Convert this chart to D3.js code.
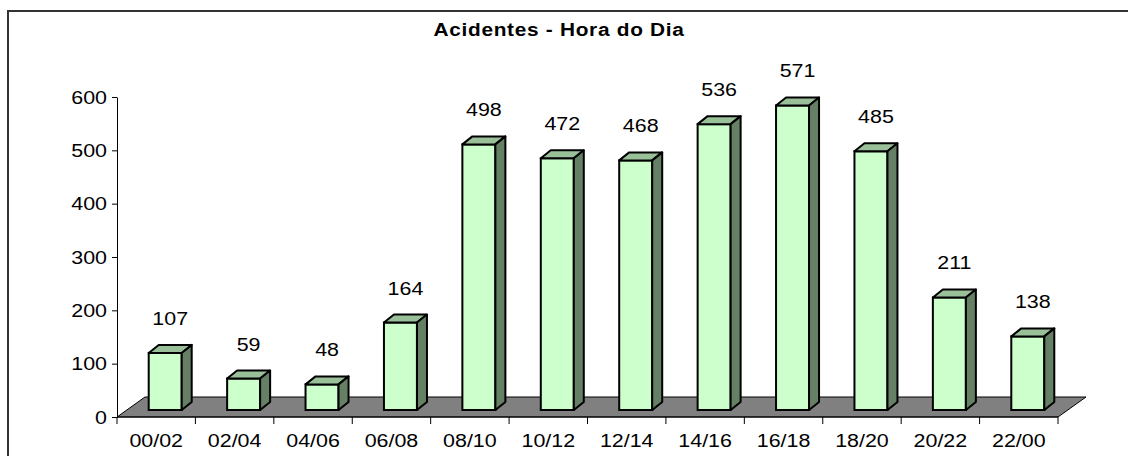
<!DOCTYPE html>
<html>
<head>
<meta charset="utf-8">
<script src="https://cdn.jsdelivr.net/npm/d3@7"></script>
<style>
  body { margin: 0; background: #fff; }
  text { font-family: Arial, "Liberation Sans", sans-serif; fill: #000; }
</style>
</head>
<body>
<div id="chart"></div>
<script>
// data
const hours = ["00/02", "02/04", "04/06", "06/08", "08/10", "10/12", "12/14", "14/16", "16/18", "18/20", "20/22", "22/00"];
const accidents = [107, 59, 48, 164, 498, 472, 468, 536, 571, 485, 211, 138];
const yTicks = [0, 100, 200, 300, 400, 500, 600];
const title = "Acidentes - Hora do Dia";

const width = 1128, height = 456;
const stretch = 1.19; // the text in the picture is a little wider than normal

const svg = d3.select("#chart").append("svg")
    .attr("width", width)
    .attr("height", height);

// outer frame (right and bottom edges fall outside the picture)
svg.append("rect")
    .attr("x", 8).attr("y", 11)
    .attr("width", 1300).attr("height", 600)
    .attr("fill", "none")
    .attr("stroke", "#333")
    .attr("stroke-width", 2);

let xScale = d3.scaleBand()
    .domain(hours)
    .range([117, 1058]);

let yScale = d3.scaleLinear()
    .domain([0, 600])
    .range([417, 97]);

// depth of the floor and of each bar
const floorDx = 28, floorDy = -20;
const barShiftX = 9, barShiftY = -7;
const barDx = 10, barDy = -8;
const barWidth = 33;

// floor
const x0 = xScale.range()[0], x1 = xScale.range()[1], y0 = yScale(0);
svg.append("polygon")
    .attr("points", [[x0, y0], [x1, y0], [x1 + floorDx, y0 + floorDy], [x0 + floorDx, y0 + floorDy]].join(" "))
    .attr("fill", "#808080")
    .attr("stroke", "#000")
    .attr("stroke-width", 1);

// y axis
let yAxis = d3.axisLeft(yScale).tickValues(yTicks).tickSize(5).tickSizeOuter(0);
let yAx = svg.append("g")
    .attr("transform", "translate(" + x0 + ",0)")
    .call(yAxis);
yAx.select(".domain").attr("stroke", "#000");
yAx.selectAll(".tick line").attr("stroke", "#000");
yAx.selectAll(".tick text")
    .attr("x", 0).attr("dy", null)
    .attr("transform", "translate(-10,6) scale(" + stretch + ",1)")
    .style("font-size", "18px")
    .style("font-family", "Arial, 'Liberation Sans', sans-serif")
    .attr("fill", "#000");

// x axis: line along the floor front, ticks at category edges
let xAx = svg.append("g");
xAx.append("line")
    .attr("x1", x0).attr("x2", x1)
    .attr("y1", y0).attr("y2", y0)
    .attr("stroke", "#000");
let edges = hours.map(h => xScale(h)).concat([x1]);
xAx.selectAll(".xtick").data(edges).enter().append("line")
    .attr("x1", d => d).attr("x2", d => d)
    .attr("y1", y0).attr("y2", y0 + 7)
    .attr("stroke", "#000");
xAx.selectAll(".xlabel").data(hours).enter().append("text")
    .attr("transform", d => "translate(" + (xScale(d) + xScale.bandwidth() / 2) + "," + (y0 + 30) + ") scale(" + stretch + ",1)")
    .attr("text-anchor", "middle")
    .style("font-size", "18px")
    .text(d => d);

// bars
let rows = hours.map((h, i) => ({hour: h, value: accidents[i]}));
let bars = svg.selectAll(".bar").data(rows).enter().append("g").attr("class", "bar");

function faceLeft(d) { return xScale(d.hour) + xScale.bandwidth() / 2 + barShiftX - barWidth / 2; }
function faceTop(d) { return yScale(d.value) + barShiftY; }
const base = yScale(0) + barShiftY;

bars.append("rect")
    .attr("x", d => faceLeft(d))
    .attr("y", d => faceTop(d))
    .attr("width", barWidth)
    .attr("height", d => base - faceTop(d))
    .attr("fill", "#CCFFCC")
    .attr("stroke", "#000")
    .attr("stroke-width", 2);

bars.append("polygon")
    .attr("points", d => {
        let l = faceLeft(d), t = faceTop(d);
        return [[l, t], [l + barWidth, t], [l + barWidth + barDx, t + barDy], [l + barDx, t + barDy]].join(" ");
    })
    .attr("fill", "#99C099")
    .attr("stroke", "#000")
    .attr("stroke-width", 2)
    .attr("stroke-linejoin", "round");

bars.append("polygon")
    .attr("points", d => {
        let r = faceLeft(d) + barWidth, t = faceTop(d);
        return [[r, t], [r + barDx, t + barDy], [r + barDx, base + barDy], [r, base]].join(" ");
    })
    .attr("fill", "#668066")
    .attr("stroke", "#000")
    .attr("stroke-width", 2)
    .attr("stroke-linejoin", "round");

// value labels
bars.append("text")
    .attr("transform", d => "translate(" + (faceLeft(d) + barWidth / 2 + 5) + "," + (faceTop(d) - 28) + ") scale(" + stretch + ",1)")
    .attr("text-anchor", "middle")
    .style("font-size", "18px")
    .text(d => d.value);

// title
svg.append("text")
    .attr("transform", "translate(559,36) scale(" + stretch + ",1)")
    .attr("text-anchor", "middle")
    .style("font-size", "17.5px")
    .style("font-weight", "bold")
    .style("letter-spacing", "0.6px")
    .text(title);
</script>
</body>
</html>
